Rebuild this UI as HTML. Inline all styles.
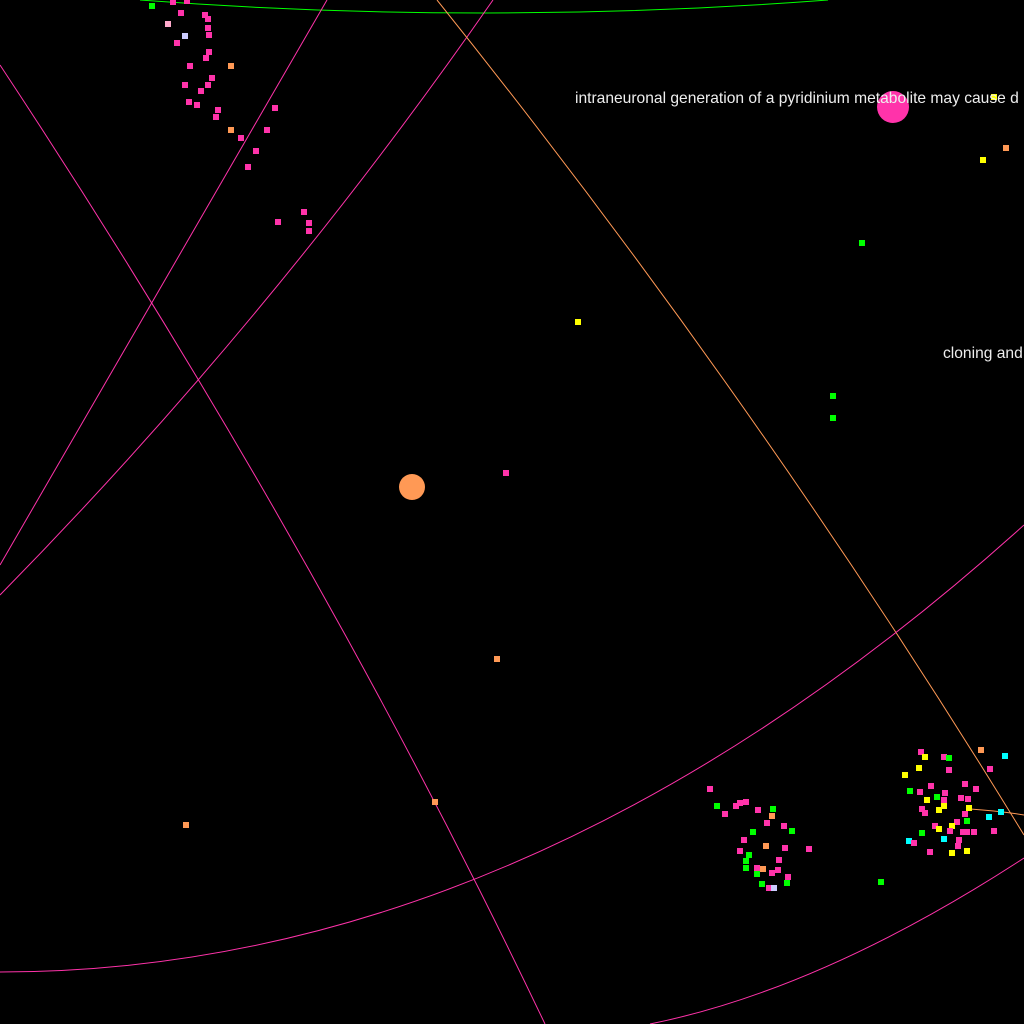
<!DOCTYPE html>
<html><head><meta charset="utf-8"><style>
html,body{margin:0;padding:0;background:#000;width:1024px;height:1024px;overflow:hidden}
svg{display:block}
text{font-family:"Liberation Sans",Arial,sans-serif;font-size:15.6px;fill:#eee}
</style></head><body>
<svg id="net" width="1024" height="1024" viewBox="0 0 1024 1024">
<rect width="1024" height="1024" fill="#000"/>
<g id="edges" fill="none" stroke-width="1">
<path d="M140,0 Q484,26 828,0" stroke="#00ff00"/>
<path d="M0,65 Q317,545 545,1024" stroke="#ff33aa"/>
<path d="M327,0 L0,565" stroke="#ff33aa"/>
<path d="M493,0 Q272,318 0,595" stroke="#ff33aa"/>
<path d="M437,0 Q760,403 1024,835" stroke="#ff9955"/>
<path d="M970,809 Q1000,811 1024,815" stroke="#ff9955"/>
<path d="M1024,525 Q528,972 0,972" stroke="#ff33aa"/>
<path d="M1024,858 Q823,989 650,1024" stroke="#ff33aa"/>
</g>
<g id="nodes"></g>
<circle cx="893" cy="107" r="16" fill="#ff33aa"/>
<circle cx="412" cy="487" r="13" fill="#ff9955"/>
<text x="575" y="103">intraneuronal generation of a pyridinium metabolite may cause d</text>
<text x="943" y="358">cloning and</text>
</svg>
<script>
const nodeX = [152,173,187,181,168,205,208,208,209,185,177,209,206,231,190,212,185,208,201,189,197,218,216,275,231,267,241,256,248,304,278,309,309,
578,506,497,435,186,862,833,833,983,1006,994,881,
921,925,944,949,981,1005,919,905,949,990,931,965,976,910,920,945,937,927,944,961,968,922,925,939,944,969,965,1001,989,967,957,952,935,939,950,963,967,974,994,922,909,914,944,959,958,930,952,967,
710,717,725,736,740,746,758,773,772,767,784,792,753,744,766,785,809,740,749,746,779,746,757,763,778,772,757,788,762,787,769,774];
const nodeY = [6,2,1,13,24,15,19,28,35,36,43,52,58,66,66,78,85,85,91,102,105,110,117,108,130,130,138,151,167,212,222,223,231,
322,473,659,802,825,243,396,418,160,148,97,882,
752,757,757,758,750,756,768,775,770,769,786,784,789,791,792,793,797,800,800,798,799,809,813,810,806,808,814,812,817,821,822,826,826,829,831,832,832,832,831,833,841,843,839,840,846,852,853,851,
789,806,814,806,803,802,810,809,816,823,826,831,832,840,846,848,849,851,855,861,860,868,868,869,870,873,874,877,884,883,888,888];
const nodeGroup = [
 "g","p","p","p","L","p","p","p","p","V","p","p","p","o","p","p","p","p","p","p","p","p","p","p","o","p","p","p","p","p","p","p","p",
 "y","p","o","o","o","g","g","g","y","o","y","g",
 "p","y","p","g","o","c","y","y","p","p","p","p","p","g","p","p","g","y","p","p","p","p","p","y","y","y","p","c","c","g","p","y","p","y","p","p","p","p","p","g","c","p","c","p","p","p","y","y",
 "p","g","p","p","p","p","p","g","o","p","p","g","g","p","o","p","p","p","g","g","p","g","p","o","p","p","g","p","g","g","p","V"];
const colors = {p:"#ff33aa",g:"#00ff00",y:"#ffff00",o:"#ff9955",c:"#00ffff",L:"#ffaacc",V:"#ccccff"};
const g = document.getElementById('nodes');
for (let i = 0; i < nodeX.length; i++) {
  const r = document.createElementNS('http://www.w3.org/2000/svg','rect');
  r.setAttribute('x', nodeX[i]-3);
  r.setAttribute('y', nodeY[i]-3);
  r.setAttribute('width', 6);
  r.setAttribute('height', 6);
  r.setAttribute('fill', colors[nodeGroup[i]] || "#ff33aa");
  
  
  g.appendChild(r);
}
</script>
</body></html>
